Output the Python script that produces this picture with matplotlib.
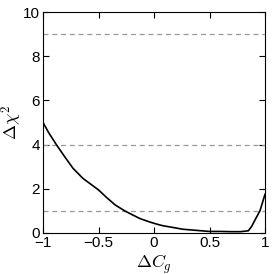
import matplotlib
matplotlib.use("Agg")
import matplotlib.pyplot as plt
import numpy as np

plt.rcParams['font.family'] = ['Liberation Sans', 'DejaVu Sans']
plt.rcParams['mathtext.fontset'] = 'cm'

dCg = [-1.0, -0.95, -0.88, -0.8, -0.73, -0.64, -0.5, -0.43, -0.35, -0.26, -0.13,
       -0.04, 0.04, 0.08, 0.16, 0.26, 0.38, 0.5, 0.6, 0.69, 0.78, 0.85, 0.88, 0.91,
       0.955, 1.0]
dchi2 = [5.0, 4.55, 4.0, 3.42, 2.93, 2.47, 1.95, 1.62, 1.27, 0.99, 0.66,
         0.5, 0.38, 0.33, 0.26, 0.17, 0.12, 0.07, 0.07, 0.06, 0.06, 0.1, 0.3, 0.59,
         1.01, 1.75]
levels = [1, 4, 9]
xticks = [-1, -0.5, 0, 0.5, 1]
xticklabels = ['\u22121', '\u22120.5', '0', '0.5', '1']
yticks = [0, 2, 4, 6, 8, 10]

fig = plt.figure(figsize=(2.73, 2.74), dpi=100)
ax = fig.add_axes([43/273, 1-233/274, (265-43)/273, (233-12)/274])
for lv in levels:
    ax.axhline(lv, color='#999999', ls=(0, (4, 3)), lw=0.9)
ax.plot(dCg, dchi2, color='black', lw=1.2)
ax.set_xlim(-1, 1)
ax.set_ylim(0, 10)
ax.set_xticks(xticks)
ax.set_xticklabels(xticklabels)
ax.set_yticks(yticks)
ax.tick_params(direction='in', top=True, right=True, labelsize=11, length=4, width=0.8, pad=2)
for s in ax.spines.values():
    s.set_linewidth(0.8)
ax.set_xlabel(r'$\Delta C_g$', fontsize=13)
ax.xaxis.set_label_coords(0.5, -0.09)
ax.set_ylabel(r'$\Delta\chi^2$', fontsize=13)
ax.yaxis.set_label_coords(-19/222, 0.5)
fig.savefig('out.png', dpi=100)
